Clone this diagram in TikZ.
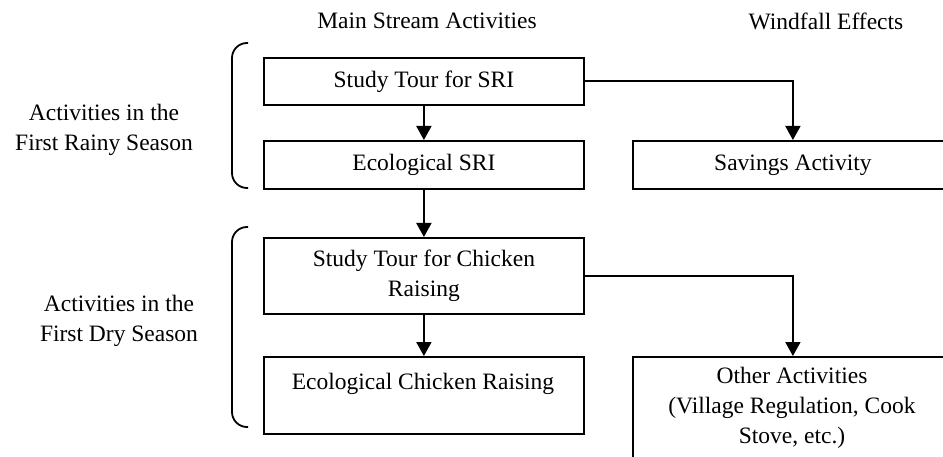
\documentclass[tikz,border=0pt]{standalone}
\usepackage{fontspec}
\setmainfont{Liberation Serif}
\usetikzlibrary{arrows.meta}
\begin{document}
\begin{tikzpicture}[x=1pt,y=-1pt,
  every node/.style={font=\fontsize{23.5}{30}\selectfont},
  box/.style={draw, line width=1.8pt, rectangle, inner sep=0pt,
    minimum width=320pt, anchor=north west, align=center},
  flow/.style={line width=1.8pt, -{Triangle[width=15pt,length=14pt]}},
  bracket/.style={line width=1.8pt, rounded corners=15pt},
  ]
\useasboundingbox (0,0) rectangle (943,457);
\clip (0,0) rectangle (943,457);

% column headings
\node (mainTitle) at (427,21) {Main Stream Activities};
\node (windTitle) at (826,21) {Windfall Effects};

% season labels
\node[align=center] (rainy) at (104,130) {Activities in the\\First Rainy Season};
\node[align=center] (dry) at (119,321) {Activities in the\\First Dry Season};

% season brackets
\draw[bracket] (248,43) -- (232,43) -- (232,188) -- (248,188);
\draw[bracket] (248,227) -- (232,227) -- (232,427) -- (248,427);

% main stream activities
\node[box, minimum height=47pt] (tourSRI) at (263,57) {Study Tour for SRI};
\node[box, minimum height=48pt] (ecoSRI) at (263,140) {Ecological SRI};
\node[box, minimum height=76pt] (tourChicken) at (263,237) {Study Tour for Chicken\\Raising};
\node[box, minimum height=77pt] (ecoChicken) at (263,356) {};
\node (ecoChickenText) at (423,384) {Ecological Chicken Raising};

% windfall effects
\node[box, minimum height=48pt] (savings) at (632,140) {Savings Activity};
\node[box, minimum height=130pt] (other) at (632,356) {};
\node[align=center] (otherText) at (792,408) {Other Activities\\(Village Regulation, Cook\\Stove, etc.)};

% connectors
\draw[flow] (tourSRI) -- (ecoSRI);
\draw[flow] (ecoSRI) -- (tourChicken);
\draw[flow] (tourChicken) -- (ecoChicken);
\draw[flow] (tourSRI.east) -| (savings.north);
\draw[flow] (tourChicken.east) -| (other.north);
\end{tikzpicture}
\end{document}
